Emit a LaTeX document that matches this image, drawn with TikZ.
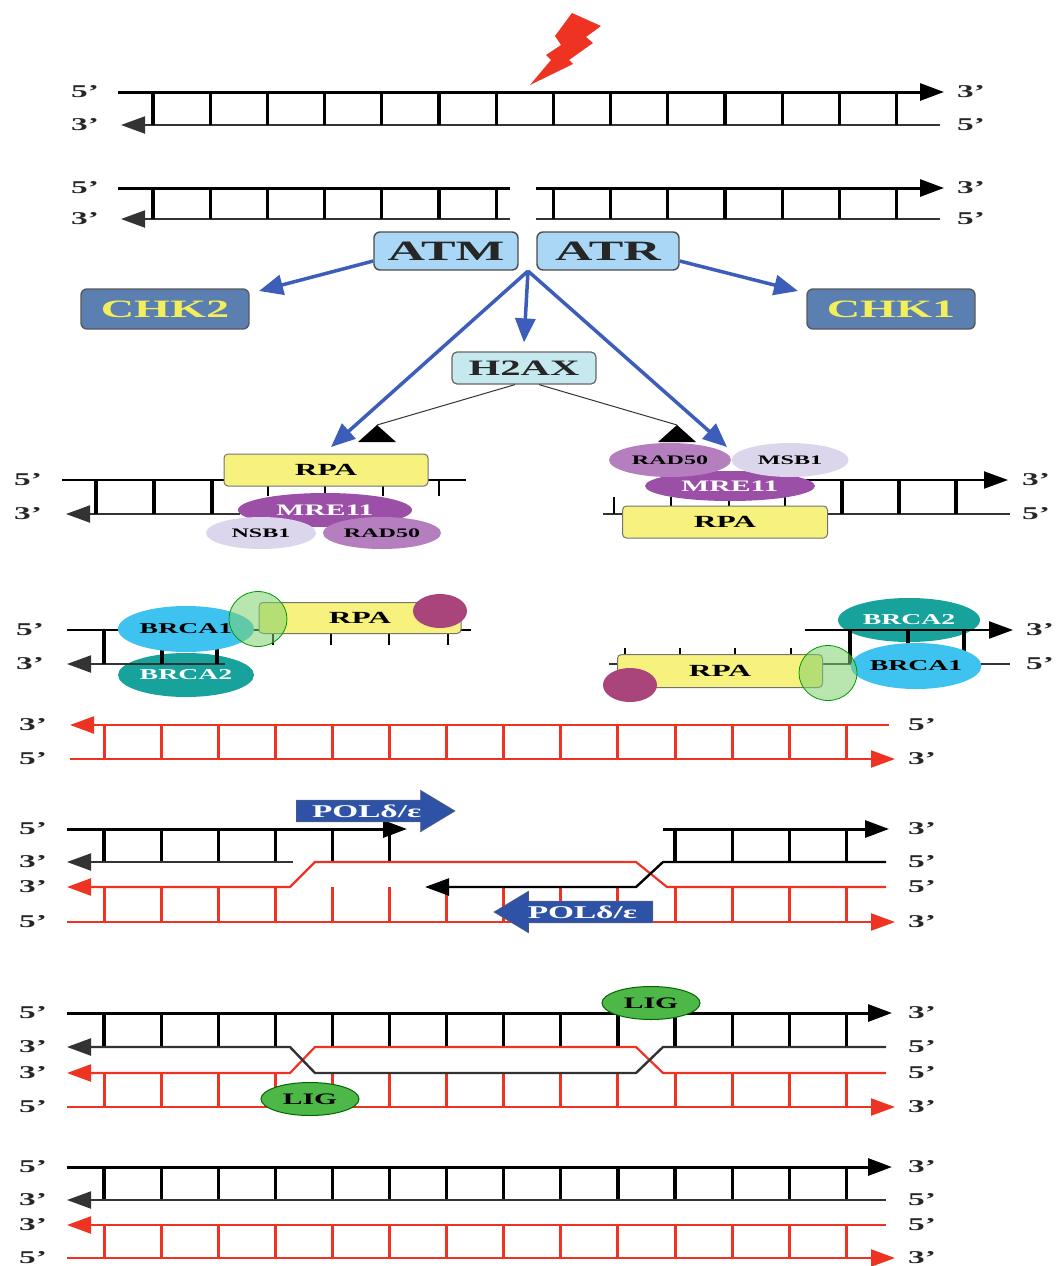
\documentclass[tikz,border=0pt]{standalone}
\usepackage{fontspec}
\newfontfamily\figfont{Liberation Serif}[FakeStretch=1.85]
\usetikzlibrary{arrows.meta,positioning,shapes.geometric,shapes.arrows}

\definecolor{dnared}{HTML}{EE3322}
\definecolor{kinblue}{HTML}{A9D7F5}
\definecolor{chkblue}{HTML}{5A7FB0}
\definecolor{chkyellow}{HTML}{F2EE5C}
\definecolor{histone}{HTML}{C6E9EF}
\definecolor{rpayellow}{HTML}{F7F27E}
\definecolor{mrepurple}{HTML}{9B4FA6}
\definecolor{radpurple}{HTML}{B57FBF}
\definecolor{nbslilac}{HTML}{DCD6EC}
\definecolor{brcacyan}{HTML}{3EC3F0}
\definecolor{brcateal}{HTML}{17A29C}
\definecolor{linkgreen}{HTML}{7FCF6E}
\definecolor{capplum}{HTML}{A9457B}
\definecolor{polblue}{HTML}{2E52A5}
\definecolor{liggreen}{HTML}{4DB848}
\definecolor{sigblue}{HTML}{3C5DBA}

\tikzset{
  >={Triangle[length=24pt,width=17pt]},
  fig/.style={font=\figfont\bfseries\fontsize{#1}{#1}\selectfont},
  primelabel/.style={fig=18, inner sep=0pt, text=black!85},
  topstrand/.style={line width=3pt},
  botstrand/.style={line width=2pt, draw=black!80},
  rungline/.style={line width=3.2pt},
  tickline/.style={line width=2pt},
  redstrand/.style={line width=2.2pt, draw=dnared},
  redrung/.style={line width=3pt, draw=dnared},
  kinase/.style={draw=black!70, fill=kinblue, rounded corners=6pt, line width=1.4pt, minimum height=38pt, fig=28, text=black!85},
  checkpoint/.style={draw=black!65, fill=chkblue, rounded corners=6pt, line width=1.4pt, minimum width=168pt, minimum height=40pt, fig=25, text=chkyellow},
  histonebox/.style={draw=black!60, fill=histone, rounded corners=5pt, line width=1.2pt, minimum width=144pt, minimum height=32pt, fig=22, text=black!85},
  rpabox/.style={draw=black!55, fill=rpayellow, rounded corners=4pt, line width=1pt, minimum width=204pt, minimum height=32pt, fig=17, inner sep=0pt},
  protein/.style={ellipse, inner sep=0pt, fig=#1},
  signal/.style={draw=sigblue, line width=3.5pt, -{Triangle[length=24pt,width=20pt]}},
  recruit/.style={draw=black!80, line width=1pt},
  linker/.style={ellipse, draw=green!60!black, fill=linkgreen, fill opacity=.55, line width=0.8pt, minimum width=58pt, minimum height=55pt},
  capdot/.style={ellipse, fill=capplum, minimum width=54pt, minimum height=34pt},
  polarrow/.style={single arrow, draw=black!60, fill=polblue, text=white, fig=18, single arrow head extend=8pt, single arrow tip angle=62, minimum height=159pt, minimum width=42pt, inner sep=2pt},
  ligase/.style={ellipse, draw=green!40!black, fill=liggreen, line width=1pt, minimum width=98pt, minimum height=33pt, fig=16, inner sep=0pt},
}

\begin{document}
\begin{tikzpicture}[x=1pt,y=-1pt]
  \useasboundingbox (0,0) rectangle (1056,1266);

  % the break
  \fill[dnared] (572,13) -- (601,26) -- (586,37) -- (593,43) -- (569,60) -- (573,64)
    -- (530,85) -- (551,60) -- (546,55) -- (561,45) -- (555,36) -- cycle;

  % intact duplex
  \draw[topstrand,->] (118,92) -- (944,92);
  \draw[botstrand,<-] (121,125) -- (940,125);
  \foreach \i in {0,...,13} \draw[rungline] ({153+57.2*\i},92) -- ++(0,33);

  % broken duplex
  \draw[topstrand] (118,188) -- (510,188);
  \draw[botstrand,<-] (121,219) -- (510,219);
  \draw[topstrand,->] (536,188) -- (944,188);
  \draw[botstrand] (536,219) -- (940,219);
  \foreach \i in {0,...,6} \draw[rungline] ({153+57.2*\i},188) -- ++(0,31);
  \foreach \i in {7,...,13} \draw[rungline] ({153+57.2*\i},188) -- ++(0,31);

  \foreach \y/\l/\r in {92/5/3,125/3/5,188/5/3,219/3/5}{
    \node[primelabel] (lt\y) at (85,\y) {\l{}’};
    \node[primelabel] (rt\y) at (971,\y) {\r{}’};
  }

  % kinases
  \node[kinase, minimum width=144pt] (atm) at (446,251) {ATM};
  \node[kinase, minimum width=142pt] (atr) at (608,251) {ATR};
  \node[checkpoint] (chk2) at (165,309) {CHK2};
  \node[checkpoint] (chk1) at (891,309) {CHK1};
  \node[histonebox] (h2ax) at (524,368) {H2AX};

  \coordinate (hub) at (528,271);
  \coordinate (chk2in) at (259,291);
  \coordinate (chk1in) at (798,291);
  \coordinate (endL) at (331,447);
  \coordinate (endR) at (727,447);
  \draw[signal] ([yshift=-10pt]atm.west) -- (chk2in);
  \draw[signal] ([yshift=-10pt]atr.east) -- (chk1in);
  \draw[signal] (hub) -- ([yshift=9pt]h2ax.north);
  \draw[signal] (hub) -- (endL);
  \draw[signal] (hub) -- (endR);

  \coordinate (gamL) at (377,425);
  \coordinate (gamR) at (677,425);
  \draw[recruit] ([xshift=-9pt]h2ax.south) -- (gamL);
  \draw[recruit] ([xshift=15pt]h2ax.south) -- (gamR);
  \fill (gamL) -- ++(19,17) -- ++(-38,0) -- cycle;
  \fill (gamR) -- ++(19,17) -- ++(-38,0) -- cycle;

  % resection, left end
  \draw[topstrand, line width=2pt] (62,480) -- (466,480);
  \draw[botstrand,<-] (66,514) -- (240,514);
  \foreach \x in {96,154,212} \draw[rungline] (\x,480) -- ++(0,34);
  \foreach \x in {268,325,383,439} \draw[tickline] (\x,480) -- ++(0,16);
  \node[rpabox] (rpa1) at (326,470) {RPA};
  \node[protein=16, fill=mrepurple, text=white, minimum width=174pt, minimum height=34pt] (mre1) at (325,510) {MRE11};
  \node[protein=13, fill=nbslilac, minimum width=110pt, minimum height=32pt] (nsb1) at (261,533) {NSB1};
  \node[protein=13, fill=radpurple, minimum width=118pt, minimum height=32pt] (rad1) at (382,533) {RAD50};

  % resection, right end
  \draw[topstrand, line width=2pt,->] (798,480) -- (1008,480);
  \draw[botstrand] (603,514) -- (1010,514);
  \foreach \x in {842,899,956} \draw[rungline] (\x,480) -- ++(0,34);
  \foreach \x in {614,671,729,785} \draw[tickline] (\x,514) -- ++(0,-17);
  \node[protein=16, fill=mrepurple, text=white, minimum width=170pt, minimum height=30pt] (mre2) at (730,486) {MRE11};
  \node[protein=13, fill=radpurple, minimum width=122pt, minimum height=34pt] (rad2) at (670,460) {RAD50};
  \node[protein=13, fill=nbslilac, minimum width=117pt, minimum height=34pt] (msb2) at (790,460) {MSB1};
  \node[rpabox, minimum width=205pt] (rpa2) at (725,522) {RPA};

  \foreach \y/\l/\r in {480/5/3,514/3/5}{
    \node[primelabel] (lt\y) at (28,\y) {\l{}’};
    \node[primelabel] (rt\y) at (1036,\y) {\r{}’};
  }

  % BRCA loading, left end
  \node[protein=15, fill=brcateal, text=white, minimum width=136pt, minimum height=44pt] (brca2a) at (186,675) {BRCA2};
  \draw[topstrand, line width=2.4pt] (67,630) -- (471,630);
  \draw[botstrand,<-] (67,664) -- (225,664);
  \foreach \x in {104,162,217} \draw[rungline] (\x,630) -- ++(0,34);
  \foreach \x in {273,331,389,448} \draw[tickline] (\x,630) -- ++(0,15);
  \node[protein=15, fill=brcacyan, minimum width=136pt, minimum height=46pt] (brca1a) at (186,629) {BRCA1};
  \node[rpabox, minimum width=202pt, minimum height=31pt] (rpa3) at (360,618) {RPA};
  \node[capdot] (cap3) at (440,611) {};
  \node[linker] (link3) at (258,619) {};

  % BRCA loading, right end
  \node[protein=15, fill=brcateal, text=white, minimum width=142pt, minimum height=44pt] (brca2b) at (909,620) {BRCA2};
  \draw[topstrand, line width=2.4pt,->] (805,630) -- (1013,630);
  \draw[botstrand] (609,664) -- (1010,664);
  \foreach \x in {850,908,964} \draw[rungline] (\x,630) -- ++(0,34);
  \foreach \x in {625,680,735,791} \draw[tickline] (\x,664) -- ++(0,-16);
  \node[protein=15, fill=brcacyan, minimum width=128pt, minimum height=46pt] (brca1b) at (916,666) {BRCA1};
  \node[rpabox, minimum width=205pt, minimum height=33pt] (rpa4) at (720,671) {RPA};
  \node[capdot] (cap4) at (630,685) {};
  \node[linker] (link4) at (828,673) {};

  \foreach \y/\l/\r in {630/5/3,664/3/5}{
    \node[primelabel] (lt\y) at (30,\y) {\l{}’};
    \node[primelabel] (rt\y) at (1040,\y) {\r{}’};
  }

  % homologous template
  \draw[redstrand,<-] (70,725) -- (889,725);
  \draw[redstrand,->] (70,759) -- (895,759);
  \foreach \i in {0,...,13} \draw[redrung] ({104+57.1*\i},725) -- ++(0,34);

  % strand invasion and synthesis
  \foreach \i in {0,...,5} \draw[rungline] ({104+57.1*\i},829) -- ++(0,33);
  \foreach \i in {10,...,13} \draw[rungline] ({104+57.1*\i},829) -- ++(0,33);
  \foreach \i in {0,...,13} \draw[redrung] ({104+57.1*\i},887) -- ++(0,35);
  \draw[topstrand,->] (67,829) -- (407,829);
  \draw[botstrand,<-] (67,862) -- (293,862);
  \draw[redstrand,<-] (67,887) -- (290,887) -- (315,862) -- (636,862) -- (667,887) -- (886,887);
  \draw[topstrand,->] (663,829) -- (889,829);
  \draw[topstrand, line width=2.4pt,->] (886,862) -- (663,862) -- (636,887) -- (425,887);
  \draw[redstrand,->] (67,922) -- (895,922);
  \node[polarrow, anchor=tail] (pol1) at (296,811) {POLδ/ε};
  \node[polarrow, anchor=tail, shape border rotate=180] (pol2) at (653,912) {POLδ/ε};

  % ligation
  \foreach \i in {0,...,13} \draw[rungline] ({104+57.1*\i},1013) -- ++(0,34);
  \foreach \i in {0,...,13} \draw[redrung] ({104+57.1*\i},1073) -- ++(0,34);
  \draw[topstrand,->] (67,1013) -- (892,1013);
  \draw[redstrand,<-] (67,1073) -- (290,1073) -- (315,1047) -- (636,1047) -- (663,1073) -- (886,1073);
  \draw[botstrand, line width=2.4pt,<-] (67,1047) -- (290,1047) -- (315,1073) -- (636,1073) -- (663,1047) -- (886,1047);
  \draw[redstrand,->] (67,1107) -- (895,1107);
  \node[ligase] (lig1) at (651,1003) {LIG};
  \node[ligase] (lig2) at (310,1099) {LIG};

  % repaired duplexes
  \foreach \i in {0,...,13} {
    \draw[rungline] ({104+57.1*\i},1167) -- ++(0,33);
    \draw[redrung] ({104+57.1*\i},1225) -- ++(0,33);
  }
  \draw[topstrand,->] (67,1167) -- (892,1167);
  \draw[botstrand,<-] (67,1200) -- (886,1200);
  \draw[redstrand,<-] (67,1225) -- (886,1225);
  \draw[redstrand,->] (67,1258) -- (895,1258);

  \foreach \y/\l/\r in {725/3/5,759/5/3,829/5/3,862/3/5,887/3/5,922/5/3,1013/5/3,1047/3/5,1073/3/5,1107/5/3,1167/5/3,1200/3/5,1225/3/5,1258/5/3}{
    \node[primelabel] (lt\y) at (33,\y) {\l{}’};
    \node[primelabel] (rt\y) at (922,\y) {\r{}’};
  }
\end{tikzpicture}
\end{document}
